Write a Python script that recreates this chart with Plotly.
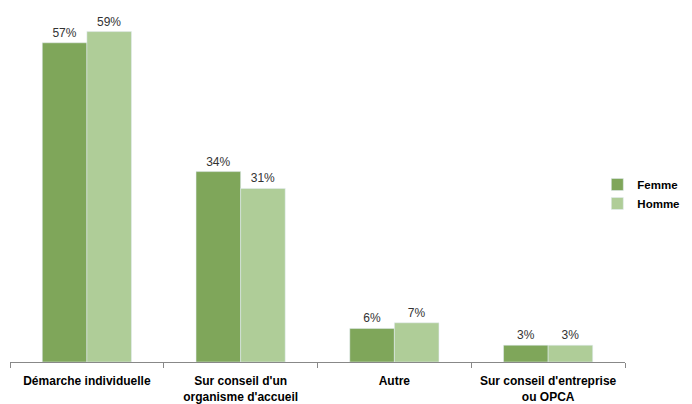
import plotly.graph_objects as go

categories = ["Démarche individuelle", "Sur conseil d'un<br>organisme d'accueil", "Autre", "Sur conseil d'entreprise<br>ou OPCA"]
femme = [57, 34, 6, 3]
homme = [59, 31, 7, 3]

fig = go.Figure()
fig.add_trace(go.Bar(name="Femme", x=categories, y=femme, marker_color="#7fa65a",
                     text=[f"{v}%" for v in femme], textposition="outside", cliponaxis=False,
                     textfont=dict(family="Liberation Sans", size=12, color="#333333")))
fig.add_trace(go.Bar(name="Homme", x=categories, y=homme, marker_color="#afcd98",
                     text=[f"{v}%" for v in homme], textposition="outside", cliponaxis=False,
                     textfont=dict(family="Liberation Sans", size=12, color="#333333")))

fig.update_layout(
    width=692, height=404,
    margin=dict(l=2, r=75, t=18, b=50, autoexpand=False),
    barmode="group", bargap=0.42, bargroupgap=0,
    plot_bgcolor="white", paper_bgcolor="white",
    legend=dict(x=0.955, y=0.5, xanchor="left", yanchor="middle",
                font=dict(family="Liberation Sans", size=11.5, color="#000000", weight="bold"),
                itemwidth=30, bgcolor="rgba(0,0,0,0)"),
)
fig.update_xaxes(showline=True, linecolor="#888888", linewidth=1, ticks="outside", ticklen=5,
                 tickcolor="#888888", tickson="boundaries", tickangle=0, automargin=False,
                 ticklabelstandoff=8,
                 tickfont=dict(family="Liberation Sans", size=12, color="#000000", weight="bold"))
fig.update_yaxes(range=[0, 60], visible=False, showgrid=False)

fig.write_html("out.html")
